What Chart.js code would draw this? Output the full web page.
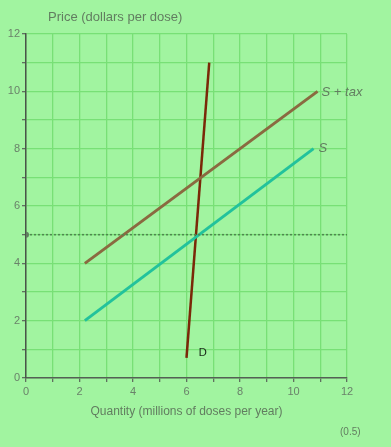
<!DOCTYPE html>
<html>
<head>
<meta charset="utf-8">
<script src="https://cdn.jsdelivr.net/npm/chart.js@4"></script>
<style>
  html, body { margin: 0; padding: 0; background: #a1f4a0; }
  #wrap { width: 391px; height: 447px; }
</style>
</head>
<body>
<div id="wrap"><canvas id="plot"></canvas></div>
<script>
// supply, supply + tax, demand (quantity, price)
const s_x = [2.2, 10.75];
const s_y = [2, 8];
const stax_x = [2.2, 10.9];
const stax_y = [4, 10];
const d_x = [6.0, 6.85];
const d_y = [0.7, 11];
const price_line_x = [0, 12];
const price_line_y = [5, 5];
const tick_vals = [0, 2, 4, 6, 8, 10, 12];

function pts(xs, ys) {
    return xs.map((x, i) => ({ x: x, y: ys[i] }));
}

const labelPlugin = {
    id: 'labels',
    afterDatasetsDraw(chart) {
        const c = chart.ctx;
        const xs = chart.scales.x, ys = chart.scales.y;
        const area = chart.chartArea;
        c.save();
        c.textBaseline = 'middle';
        c.fillStyle = '#627d60';
        c.font = 'italic 13px "Liberation Sans", Arial, sans-serif';
        c.textAlign = 'left';
        c.fillText('S + tax', xs.getPixelForValue(stax_x[1]) + 4, ys.getPixelForValue(stax_y[1]) + 1);
        c.fillText('S', xs.getPixelForValue(s_x[1]) + 5, ys.getPixelForValue(s_y[1]));
        c.fillStyle = '#1a2a1a';
        c.font = '11px "DejaVu Sans", sans-serif';
        c.fillText('D', xs.getPixelForValue(d_x[0]) + 12, ys.getPixelForValue(d_y[0]) - 5);
        c.fillStyle = '#627d60';
        c.font = '13px "Liberation Sans", Arial, sans-serif';
        c.fillText('Price (dollars per dose)', area.left + 22, area.top - 17);
        c.font = '10px "Liberation Sans", Arial, sans-serif';
        c.fillText('(0.5)', area.right - 7, area.bottom + 54);
        c.restore();
    }
};

new Chart(document.getElementById('plot'), {
    type: 'scatter',
    data: {
        datasets: [
            {
                label: 'P = 5',
                data: pts(price_line_x, price_line_y),
                showLine: true,
                borderColor: '#4f874f',
                borderWidth: 1.5,
                borderDash: [2, 2],
                pointRadius: [3, 0],
                pointBackgroundColor: '#5f7f5f',
                pointBorderWidth: 0
            },
            {
                label: 'S + tax',
                data: pts(stax_x, stax_y),
                showLine: true,
                borderColor: '#8a6a40',
                borderWidth: 3,
                pointRadius: 0
            },
            {
                label: 'S',
                data: pts(s_x, s_y),
                showLine: true,
                borderColor: '#22c29c',
                borderWidth: 3,
                pointRadius: 0
            },
            {
                label: 'D',
                data: pts(d_x, d_y),
                showLine: true,
                borderColor: '#7a2808',
                borderWidth: 2.5,
                pointRadius: 0
            }
        ]
    },
    options: {
        responsive: true,
        maintainAspectRatio: false,
        animation: false,
        layout: { padding: { left: 0, top: 34, right: 44, bottom: 24 } },
        scales: {
            x: {
                type: 'linear',
                min: 0,
                max: 12,
                afterFit(scale) { scale.height = 45; },
                border: { color: '#556055', width: 1.5 },
                grid: { color: '#78e076', lineWidth: 1.3, tickColor: '#5f705f', tickLength: 4 },
                ticks: {
                    stepSize: 1,
                    padding: 3,
                    color: '#6a826a',
                    font: { size: 11, family: '"Liberation Sans", Arial, sans-serif' },
                    callback: v => tick_vals.includes(v) ? v : ''
                },
                title: {
                    display: true,
                    text: 'Quantity (millions of doses per year)',
                    color: '#627d60',
                    padding: { top: 0 },
                    font: { size: 12, family: '"Liberation Sans", Arial, sans-serif' }
                }
            },
            y: {
                min: 0,
                max: 12,
                afterFit(scale) { scale.width = 26; },
                border: { color: '#4a544a', width: 1.5 },
                grid: { color: '#78e076', lineWidth: 1.3, tickColor: '#5f705f', tickLength: 4 },
                ticks: {
                    stepSize: 1,
                    padding: 2,
                    color: '#6a826a',
                    font: { size: 11, family: '"Liberation Sans", Arial, sans-serif' },
                    callback: v => tick_vals.includes(v) ? v : ''
                }
            }
        },
        plugins: {
            legend: { display: false },
            tooltip: { enabled: false }
        }
    },
    plugins: [labelPlugin]
});
</script>
</body>
</html>
